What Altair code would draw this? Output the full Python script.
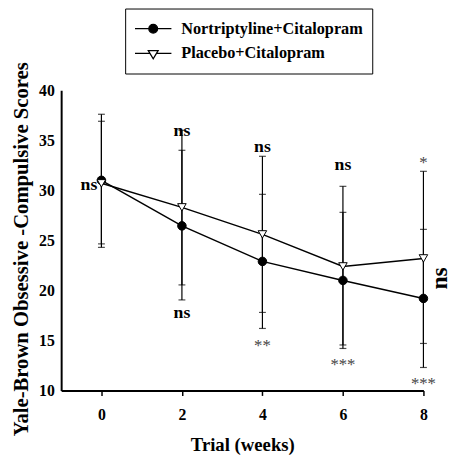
import altair as alt
import pandas as pd

weeks = [0, 2, 4, 6, 8]
groups = ["Nortriptyline+Citalopram", "Placebo+Citalopram"]

nort_mean = [31.0, 26.45, 22.9, 21.0, 19.2]
nort_low = [24.3, 19.05, 16.2, 14.2, 12.3]
nort_high = [37.6, 34.0, 29.6, 27.8, 26.1]

plac_mean = [30.7, 28.3, 25.6, 22.4, 23.2]
plac_low = [24.65, 20.55, 17.8, 14.55, 14.7]
plac_high = [36.9, 36.0, 33.4, 30.4, 31.9]

ns_x = [-0.31, 2, 2, 4, 6]
ns_y = [30.0, 35.4, 17.2, 33.8, 32.0]
ns_text = ["ns", "ns", "ns", "ns", "ns"]

star_x = [4, 6, 8, 8]
star_y = [13.95, 12.0, 10.2, 32.2]
star_text = ["**", "***", "***", "*"]

side_x = [8.42]
side_y = [21.2]
side_text = ["ns"]

y_ticks = [10, 15, 20, 25, 30, 35, 40]
x_ticks = [0, 2, 4, 6, 8]

FONT = "Liberation Serif"

rows = []
for g, m, lo, hi in [(groups[0], nort_mean, nort_low, nort_high),
                     (groups[1], plac_mean, plac_low, plac_high)]:
    for w, a, b, c in zip(weeks, m, lo, hi):
        rows.append({"week": w, "group": g, "mean": a, "low": b, "high": c})
df = pd.DataFrame(rows)

ns_df = pd.DataFrame({"x": ns_x, "y": ns_y, "t": ns_text})
star_df = pd.DataFrame({"x": star_x, "y": star_y, "t": star_text})
side_df = pd.DataFrame({"x": side_x, "y": side_y, "t": side_text})
leg_df = pd.DataFrame({"group": groups})

xs = alt.Scale(domain=[-1, 8], nice=False, zero=False)
ys = alt.Scale(domain=[10, 40], nice=False, zero=False)

xax = alt.Axis(values=x_ticks, tickSize=5, tickWidth=1.5, tickColor="black",
               labelPadding=11, title="Trial (weeks)", titleFontSize=19,
               titleY=61, titleBaseline="alphabetic", labelFlush=False,
               labelFont=FONT, titleFont=FONT)
yax = alt.Axis(values=y_ticks, ticks=False, labelPadding=7,
               title="Yale-Brown Obsessive -Compulsive Scores", titleFontSize=21,
               titleX=-40, titleY=161, titleAngle=270, titleAlign="center",
               titleBaseline="middle", labelFont=FONT, titleFont=FONT)

X = alt.X("week:Q", scale=xs, axis=xax)
base = alt.Chart(df)

rules = base.mark_rule(color="black", strokeWidth=1.2).encode(
    x=X, y=alt.Y("low:Q", scale=ys, axis=yax), y2="high:Q")
cap_lo = base.mark_tick(orient="horizontal", size=7, thickness=1.2, color="black").encode(
    x="week:Q", y="low:Q")
cap_hi = base.mark_tick(orient="horizontal", size=7, thickness=1.2, color="black").encode(
    x="week:Q", y="high:Q")
lines = base.mark_line(color="black", strokeWidth=1.5).encode(
    x="week:Q", y="mean:Q", detail="group:N")
points = base.mark_point(filled=True, size=75, stroke="black", strokeWidth=1, opacity=1).encode(
    x="week:Q", y="mean:Q",
    shape=alt.Shape("group:N", scale=alt.Scale(domain=groups, range=["circle", "triangle-down"]), legend=None),
    fill=alt.Fill("group:N", scale=alt.Scale(domain=groups, range=["black", "white"]), legend=None),
)

path1 = "M-1,0L-0.24,0A0.24,0.24,0,1,1,0.24,0A0.24,0.24,0,1,1,-0.24,0M0.24,0L1,0"
path2 = "M-1,0L-0.18,0M0.18,0L1,0M-0.27,-0.15L0.27,-0.15L0,0.3Z"

legend = alt.Legend(title=None, orient="none", legendX=65, legendY=-83,
                    strokeColor="black", fillColor="white", padding=9,
                    labelFont=FONT, labelFontSize=16.5, labelFontWeight="bold",
                    labelColor="black", labelOffset=9, labelLimit=400, clipHeight=23, rowPadding=2,
                    symbolSize=1369, symbolStrokeWidth=1.3, symbolOpacity=1)
leg_layer = alt.Chart(leg_df).mark_point(filled=True, clip=True, size=1369,
                                         strokeWidth=1.3, opacity=1).encode(
    x=alt.value(-500), y=alt.value(-500),
    shape=alt.Shape("group:N", scale=alt.Scale(domain=groups, range=[path1, path2]), legend=legend),
    fill=alt.Fill("group:N", scale=alt.Scale(domain=groups, range=["black", "white"]), legend=legend),
    stroke=alt.Stroke("group:N", scale=alt.Scale(domain=groups, range=["black", "black"]), legend=legend),
)

ns_layer = alt.Chart(ns_df).mark_text(font=FONT, fontSize=18, fontWeight="bold", color="black",
                                      baseline="alphabetic", align="center").encode(
    x="x:Q", y="y:Q", text="t:N")
star_layer = alt.Chart(star_df).mark_text(font=FONT, fontSize=17, fontWeight="normal", color="#444",
                                          baseline="alphabetic", align="center").encode(
    x="x:Q", y="y:Q", text="t:N")
side_layer = alt.Chart(side_df).mark_text(font=FONT, fontSize=24, fontWeight="bold", color="black",
                                          baseline="middle", align="center", angle=270).encode(
    x="x:Q", y="y:Q", text="t:N")

chart = alt.layer(rules, cap_lo, cap_hi, lines, points, ns_layer, star_layer, side_layer, leg_layer).resolve_scale(
    shape="independent", fill="independent", stroke="independent"
).properties(
    width=368, height=305,
    autosize=alt.AutoSizeParams(type="none"),
    padding={"left": 54, "top": 80, "right": 28, "bottom": 64},
).configure(font=FONT).configure_view(stroke=None).configure_axis(
    grid=False, domainColor="black", domainWidth=2, labelFont=FONT, labelFontSize=16,
    labelFontWeight="bold", labelColor="black", titleFont=FONT, titleFontWeight="bold",
    titleColor="black",
)

chart.save("out.html", embed_options={"renderer": "svg", "actions": False})
